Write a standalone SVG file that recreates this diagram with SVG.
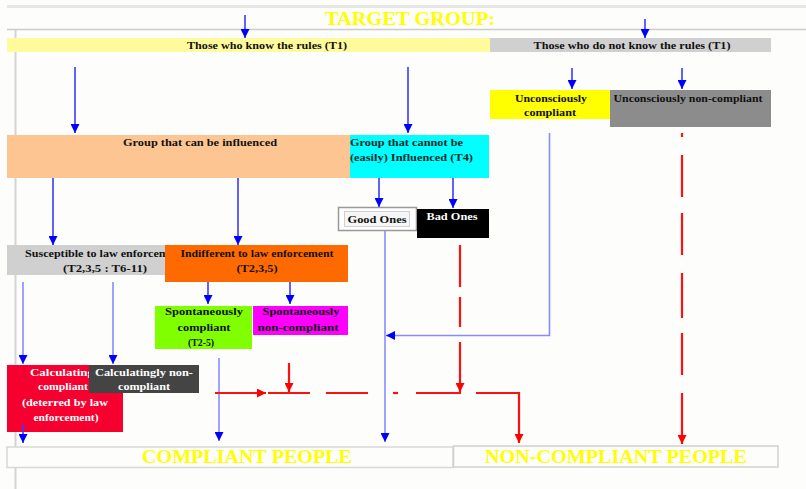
<svg xmlns="http://www.w3.org/2000/svg" width="806" height="489" viewBox="0 0 806 489">
<style>
.t{font-family:"Liberation Serif","Times New Roman",serif;font-weight:bold;font-size:11px;text-anchor:middle;fill:#111}
.w{fill:#fff}
.big{font-family:"Liberation Serif","Times New Roman",serif;font-weight:bold;font-size:18px;text-anchor:middle;fill:#ffff00}
.b{stroke:#3a3aff;stroke-width:1.6;fill:none}
.lb{stroke:#8a8aff;stroke-width:1.6;fill:none}
.r{stroke:#ff1010;stroke-width:2.2;fill:none}
</style>
<defs>
<marker id="ab" viewBox="0 0 10 10" refX="10" refY="5" markerUnits="userSpaceOnUse" markerWidth="9" markerHeight="9" orient="auto"><path d="M0,0 L10,5 L0,10 z" fill="#0000ff"/></marker>
<marker id="ar" viewBox="0 0 10 10" refX="10" refY="5" markerUnits="userSpaceOnUse" markerWidth="9" markerHeight="9" orient="auto"><path d="M0,0 L10,5 L0,10 z" fill="#ff0000"/></marker>
</defs>
<rect width="806" height="489" fill="#fdfdfb"/>
<g id="frame">
<line x1="7" y1="6.5" x2="806" y2="6.5" stroke="#e6e6e6" stroke-width="3"/>
<line x1="7" y1="29.5" x2="806" y2="29.5" stroke="#cccccc" stroke-width="1.5"/>
<line x1="15.5" y1="30" x2="15.5" y2="489" stroke="#d4d4d4" stroke-width="2"/>
<text class="big" x="410" y="25" textLength="170" lengthAdjust="spacingAndGlyphs">TARGET GROUP:</text>
</g>
<g id="know">
<rect x="7" y="38" width="483" height="14" fill="#fffb9c"/>
<text class="t" x="267" y="49" textLength="160" lengthAdjust="spacingAndGlyphs">Those who know the rules (T1)</text>
</g>
<g id="notknow">
<rect x="490" y="38" width="281" height="14" fill="#d0d0d0"/>
<text class="t" x="632" y="49" textLength="197" lengthAdjust="spacingAndGlyphs">Those who do not know the rules (T1)</text>
</g>
<g id="uncomp">
<rect x="490" y="90" width="120" height="29" fill="#ffff00"/>
<text class="t" x="551" y="102" textLength="72" lengthAdjust="spacingAndGlyphs">Unconsciously</text>
<text class="t" x="550" y="116" textLength="52" lengthAdjust="spacingAndGlyphs">compliant</text>
</g>
<g id="unnoncomp">
<rect x="610" y="90" width="161" height="37" fill="#8c8c8c"/>
<text class="t" x="688" y="102" textLength="149" lengthAdjust="spacingAndGlyphs">Unconsciously non-compliant</text>
</g>
<g id="caninf">
<rect x="7" y="135" width="343" height="43" fill="#fdc592"/>
<text class="t" x="200" y="146" textLength="154" lengthAdjust="spacingAndGlyphs">Group that can be influenced</text>
</g>
<g id="cannotinf">
<rect x="350" y="135" width="139" height="43" fill="#00ffff"/>
<text class="t" x="350" y="146" style="text-anchor:start;fill:#0a2a2a" textLength="113" lengthAdjust="spacingAndGlyphs">Group that cannot be</text>
<text class="t" x="350" y="161" style="text-anchor:start;fill:#0a2a2a" textLength="123" lengthAdjust="spacingAndGlyphs">(easily)  Influenced (T4)</text>
</g>
<g id="good">
<rect x="338.5" y="207.5" width="78" height="23" fill="#ffffff" stroke="#999" stroke-width="1.5"/>
<rect x="344.5" y="211.5" width="65" height="15" fill="#f6f6f6" stroke="#d0d0d0"/>
<text class="t" x="377" y="223" textLength="59" lengthAdjust="spacingAndGlyphs">Good Ones</text>
</g>
<g id="bad">
<rect x="417" y="209" width="72" height="29" fill="#000000"/>
<text class="t w" x="452" y="220" textLength="51" lengthAdjust="spacingAndGlyphs">Bad Ones</text>
</g>
<g id="suscep">
<rect x="7" y="245" width="160" height="30" fill="#d0d0d0"/>
<svg x="7" y="245" width="158" height="30" overflow="hidden"><text class="t" x="98" y="12" textLength="160" lengthAdjust="spacingAndGlyphs">Susceptible to law enforcement</text></svg>
<text class="t" x="105" y="272" textLength="84" lengthAdjust="spacingAndGlyphs">(T2,3,5 : T6-11)</text>
</g>
<g id="indiff">
<rect x="165" y="245" width="183" height="37" fill="#ff6a00"/>
<text class="t" x="257" y="257" textLength="153" lengthAdjust="spacingAndGlyphs">Indifferent to law enforcement</text>
<text class="t" x="257" y="272" textLength="41" lengthAdjust="spacingAndGlyphs">(T2,3,5)</text>
</g>
<g id="spcomp">
<rect x="155" y="306" width="97" height="43" fill="#80ff00"/>
<text class="t" x="204" y="315" textLength="78" lengthAdjust="spacingAndGlyphs">Spontaneously</text>
<text class="t" x="204" y="331" textLength="53" lengthAdjust="spacingAndGlyphs">compliant</text>
<text class="t" x="201" y="346" textLength="26" lengthAdjust="spacingAndGlyphs">(T2-5)</text>
</g>
<g id="spnon">
<rect x="253" y="306" width="95" height="29" fill="#ff00ff"/>
<text class="t" x="301" y="315" textLength="77" lengthAdjust="spacingAndGlyphs">Spontaneously</text>
<text class="t" x="298" y="331" textLength="81" lengthAdjust="spacingAndGlyphs">non-compliant</text>
</g>
<g id="calccomp">
<rect x="7" y="365" width="116" height="67" fill="#f5002f"/>
<text class="t w" x="67" y="376" textLength="74" lengthAdjust="spacingAndGlyphs">Calculatingly</text>
<text class="t w" x="63" y="390" textLength="50" lengthAdjust="spacingAndGlyphs">compliant</text>
<text class="t w" x="65" y="406" textLength="86" lengthAdjust="spacingAndGlyphs">(deterred by law</text>
<text class="t w" x="66" y="421" textLength="65" lengthAdjust="spacingAndGlyphs">enforcement)</text>
</g>
<g id="calcnon">
<rect x="89" y="365" width="110" height="28" fill="#444444"/>
<text class="t w" x="144" y="376" textLength="98" lengthAdjust="spacingAndGlyphs">Calculatingly non-</text>
<text class="t w" x="144" y="390" textLength="52" lengthAdjust="spacingAndGlyphs">compliant</text>
</g>
<g id="compliant">
<rect x="7" y="447" width="446" height="20.5" fill="#fdfdfb" stroke="#d8d8d8" stroke-width="1.5"/>
<text class="big" x="247" y="463" textLength="210" lengthAdjust="spacingAndGlyphs">COMPLIANT PEOPLE</text>
</g>
<g id="noncompliant">
<rect x="453.5" y="446" width="324.5" height="21" fill="#fdfdfb" stroke="#d0d0d0" stroke-width="1.5"/>
<text class="big" x="616" y="463" textLength="262" lengthAdjust="spacingAndGlyphs">NON-COMPLIANT PEOPLE</text>
</g>
<g id="connectors">
<line class="b" x1="245" y1="15" x2="245" y2="38" marker-end="url(#ab)"/>
<line class="b" x1="645" y1="19" x2="645" y2="38" marker-end="url(#ab)"/>
<line class="b" x1="75" y1="67" x2="75" y2="133" marker-end="url(#ab)"/>
<line class="b" x1="408" y1="67" x2="408" y2="133" marker-end="url(#ab)"/>
<line class="b" x1="572" y1="68" x2="572" y2="89" marker-end="url(#ab)"/>
<line class="b" x1="682" y1="68" x2="682" y2="89" marker-end="url(#ab)"/>
<line class="b" x1="53" y1="178" x2="53" y2="245" marker-end="url(#ab)"/>
<line class="b" x1="238" y1="178" x2="238" y2="245" marker-end="url(#ab)"/>
<line class="b" x1="379" y1="178" x2="379" y2="207" marker-end="url(#ab)"/>
<line class="b" x1="453" y1="178" x2="453" y2="208" marker-end="url(#ab)"/>
<line class="b" x1="208" y1="282" x2="208" y2="304" marker-end="url(#ab)"/>
<line class="b" x1="290" y1="282" x2="290" y2="304" marker-end="url(#ab)"/>
<line class="lb" x1="23" y1="282" x2="23" y2="364" marker-end="url(#ab)"/>
<line class="lb" x1="113" y1="282" x2="113" y2="364" marker-end="url(#ab)"/>
<line class="b" x1="23" y1="424" x2="23" y2="443" marker-end="url(#ab)"/>
<line class="lb" x1="219" y1="358" x2="219" y2="441" marker-end="url(#ab)"/>
<line class="lb" x1="385" y1="231" x2="385" y2="442" marker-end="url(#ab)"/>
<path class="lb" d="M549.5,133 V335.5 H386" marker-end="url(#ab)"/>
<line class="r" x1="215" y1="393" x2="266" y2="393" marker-end="url(#ar)"/>
<line class="r" x1="289" y1="363" x2="289" y2="392" marker-end="url(#ar)"/>
<line class="r" x1="268" y1="393" x2="310" y2="393"/>
<line class="r" x1="326" y1="393" x2="368" y2="393"/>
<line class="r" x1="393" y1="393" x2="398" y2="393"/>
<line class="r" x1="416" y1="393" x2="461" y2="393"/>
<path class="r" d="M476,393 H519 V443" marker-end="url(#ar)"/>
<line class="r" x1="460" y1="245" x2="460" y2="287"/>
<line class="r" x1="460" y1="297" x2="460" y2="327"/>
<line class="r" x1="460" y1="342" x2="460" y2="392" marker-end="url(#ar)"/>
<line class="r" x1="682" y1="133" x2="682" y2="137"/>
<line class="r" x1="682" y1="155" x2="682" y2="197"/>
<line class="r" x1="682" y1="213" x2="682" y2="255"/>
<line class="r" x1="682" y1="273" x2="682" y2="318"/>
<line class="r" x1="682" y1="333" x2="682" y2="375"/>
<line class="r" x1="682" y1="393" x2="682" y2="444" marker-end="url(#ar)"/>
</g>
</svg>
